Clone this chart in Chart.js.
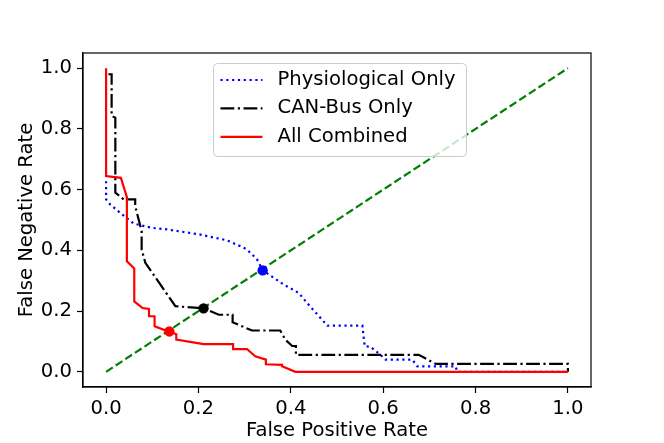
<!DOCTYPE html>
<html>
<head>
<meta charset="utf-8">
<script src="https://cdn.jsdelivr.net/npm/chart.js@4.4.0/dist/chart.umd.min.js"></script>
<style>
  html, body { margin: 0; padding: 0; background: #fff; }
</style>
</head>
<body>
<canvas id="grafica" width="664" height="443"></canvas>
<script>
// ticks de ambos ejes
const tickValues = [0, 0.2, 0.4, 0.6, 0.8, 1.0];

// Physiological Only
const physioX = [0, 0, 0.009, 0.03, 0.06, 0.1, 0.132, 0.204, 0.262, 0.29, 0.305, 0.327, 0.339, 0.356, 0.385, 0.417, 0.435, 0.461, 0.479, 0.555, 0.56, 0.572, 0.594, 0.605, 0.663, 0.674, 0.757, 0.76, 1.0];
const physioY = [0.628, 0.568, 0.551, 0.524, 0.488, 0.474, 0.469, 0.452, 0.433, 0.414, 0.403, 0.37, 0.334, 0.317, 0.287, 0.26, 0.227, 0.183, 0.152, 0.152, 0.084, 0.083, 0.056, 0.04, 0.04, 0.018, 0.018, 0, 0];

// CAN-Bus Only
const canX = [0.005, 0.012, 0.012, 0.02, 0.02, 0.038, 0.063, 0.063, 0.077, 0.077, 0.085, 0.15, 0.211, 0.244, 0.274, 0.274, 0.316, 0.377, 0.388, 0.403, 0.411, 0.411, 0.677, 0.714, 1.0, 1.0];
const canY = [0.98, 0.98, 0.843, 0.837, 0.59, 0.568, 0.568, 0.546, 0.463, 0.403, 0.359, 0.216, 0.209, 0.188, 0.188, 0.163, 0.136, 0.136, 0.106, 0.085, 0.085, 0.056, 0.056, 0.026, 0.026, 0];

// All Combined
const allX = [0, 0, 0.032, 0.045, 0.045, 0.061, 0.061, 0.079, 0.093, 0.093, 0.105, 0.105, 0.124, 0.137, 0.152, 0.152, 0.211, 0.275, 0.275, 0.305, 0.323, 0.346, 0.346, 0.381, 0.381, 0.41, 1.0];
const allY = [1.0, 0.645, 0.639, 0.575, 0.364, 0.34, 0.232, 0.21, 0.207, 0.183, 0.183, 0.15, 0.139, 0.133, 0.124, 0.106, 0.091, 0.091, 0.075, 0.075, 0.051, 0.04, 0.025, 0.023, 0.018, 0, 0];

// diagonal EER y puntos EER (Physiological, CAN-Bus, All)
const diagX = [0, 1];
const diagY = [0, 1];
const eerX = [0.339, 0.211, 0.137];
const eerY = [0.334, 0.209, 0.133];

const pares = (xs, ys) => xs.map((x, i) => ({ x: x, y: ys[i] }));

Chart.defaults.font.family = '"DejaVu Sans", sans-serif';
Chart.defaults.font.size = 19.6;
Chart.defaults.color = '#000';

// marco completo alrededor del area
const marco = {
    id: 'marco',
    afterDatasetsDraw(chart) {
        const { ctx, chartArea: a } = chart;
        ctx.save();
        ctx.strokeStyle = '#000';
        ctx.lineWidth = 1.2;
        ctx.strokeRect(a.left, a.top, a.right - a.left, a.bottom - a.top);
        ctx.restore();
    }
};

// leyenda dentro del grafico, estilo matplotlib
const leyenda = {
    id: 'leyenda',
    afterDraw(chart) {
        const { ctx, chartArea: a } = chart;
        const items = chart.data.datasets.filter(d => d.label);
        const bx = a.left + 130.5, by = a.top + 10.5, bw = 253, bh = 93;
        ctx.save();
        ctx.beginPath();
        ctx.roundRect(bx, by, bw, bh, 4);
        ctx.fillStyle = 'rgba(255,255,255,0.8)';
        ctx.fill();
        ctx.strokeStyle = '#cccccc';
        ctx.lineWidth = 1;
        ctx.stroke();
        items.forEach((d, i) => {
            const y = by + 16.5 + i * 28.4;
            ctx.beginPath();
            ctx.setLineDash(d.borderDash || []);
            ctx.strokeStyle = d.borderColor;
            ctx.lineWidth = d.borderWidth;
            ctx.moveTo(bx + 7, y);
            ctx.lineTo(bx + 49, y);
            ctx.stroke();
            ctx.setLineDash([]);
            ctx.fillStyle = '#000';
            ctx.font = '19.6px "DejaVu Sans"';
            ctx.textBaseline = 'middle';
            ctx.textAlign = 'left';
            ctx.fillText(d.label, bx + 64, y);
        });
        ctx.restore();
    }
};

const ejeComun = {
    type: 'linear',
    min: -0.05,
    max: 1.05,
    afterBuildTicks: s => { s.ticks = tickValues.map(v => ({ value: v })); },
    grid: { drawOnChartArea: false, drawTicks: true, tickLength: 6, tickColor: '#000', tickWidth: 1.2 },
    border: { display: true, color: '#000', width: 1.2 },
};

const grafica = new Chart(document.getElementById('grafica'), {
    type: 'scatter',
    data: {
        datasets: [
            {
                label: 'Physiological Only',
                data: pares(physioX, physioY),
                showLine: true, pointRadius: 0, borderColor: '#0000ff', borderWidth: 2.2,
                borderDash: [2.2, 3.6], order: 3
            },
            {
                label: 'CAN-Bus Only',
                data: pares(canX, canY),
                showLine: true, pointRadius: 0, borderColor: '#000000', borderWidth: 2.2,
                borderDash: [13.8, 3.5, 2.2, 3.5], order: 2
            },
            {
                label: 'All Combined',
                data: pares(allX, allY),
                showLine: true, pointRadius: 0, borderColor: '#ff0000', borderWidth: 2.2,
                order: 1
            },
            {
                data: pares(diagX, diagY),
                showLine: true, pointRadius: 0, borderColor: '#008000', borderWidth: 2.2,
                borderDash: [8, 3.5], order: 4
            },
            {
                data: pares(eerX, eerY),
                showLine: false, pointRadius: 5.2, pointBorderWidth: 0,
                pointBackgroundColor: ['#0000ff', '#000000', '#ff0000'], order: 0
            }
        ]
    },
    options: {
        responsive: false,
        animation: false,
        layout: { padding: { top: 53, right: 73, left: 0, bottom: 0 } },
        plugins: { legend: { display: false }, tooltip: { enabled: false } },
        scales: {
            x: Object.assign({}, ejeComun, {
                afterFit: s => { s.height = 56; },
                ticks: { padding: 4, callback: v => v.toFixed(1) },
                title: { display: true, text: 'False Positive Rate', padding: { top: 0, bottom: 0 } }
            }),
            y: Object.assign({}, ejeComun, {
                afterFit: s => { s.width = 83; },
                ticks: { padding: 5, callback: v => v.toFixed(1) },
                title: { display: true, text: 'False Negative Rate', padding: { top: 15.5, bottom: 0 } }
            })
        }
    },
    plugins: [marco, leyenda]
});
</script>
</body>
</html>
